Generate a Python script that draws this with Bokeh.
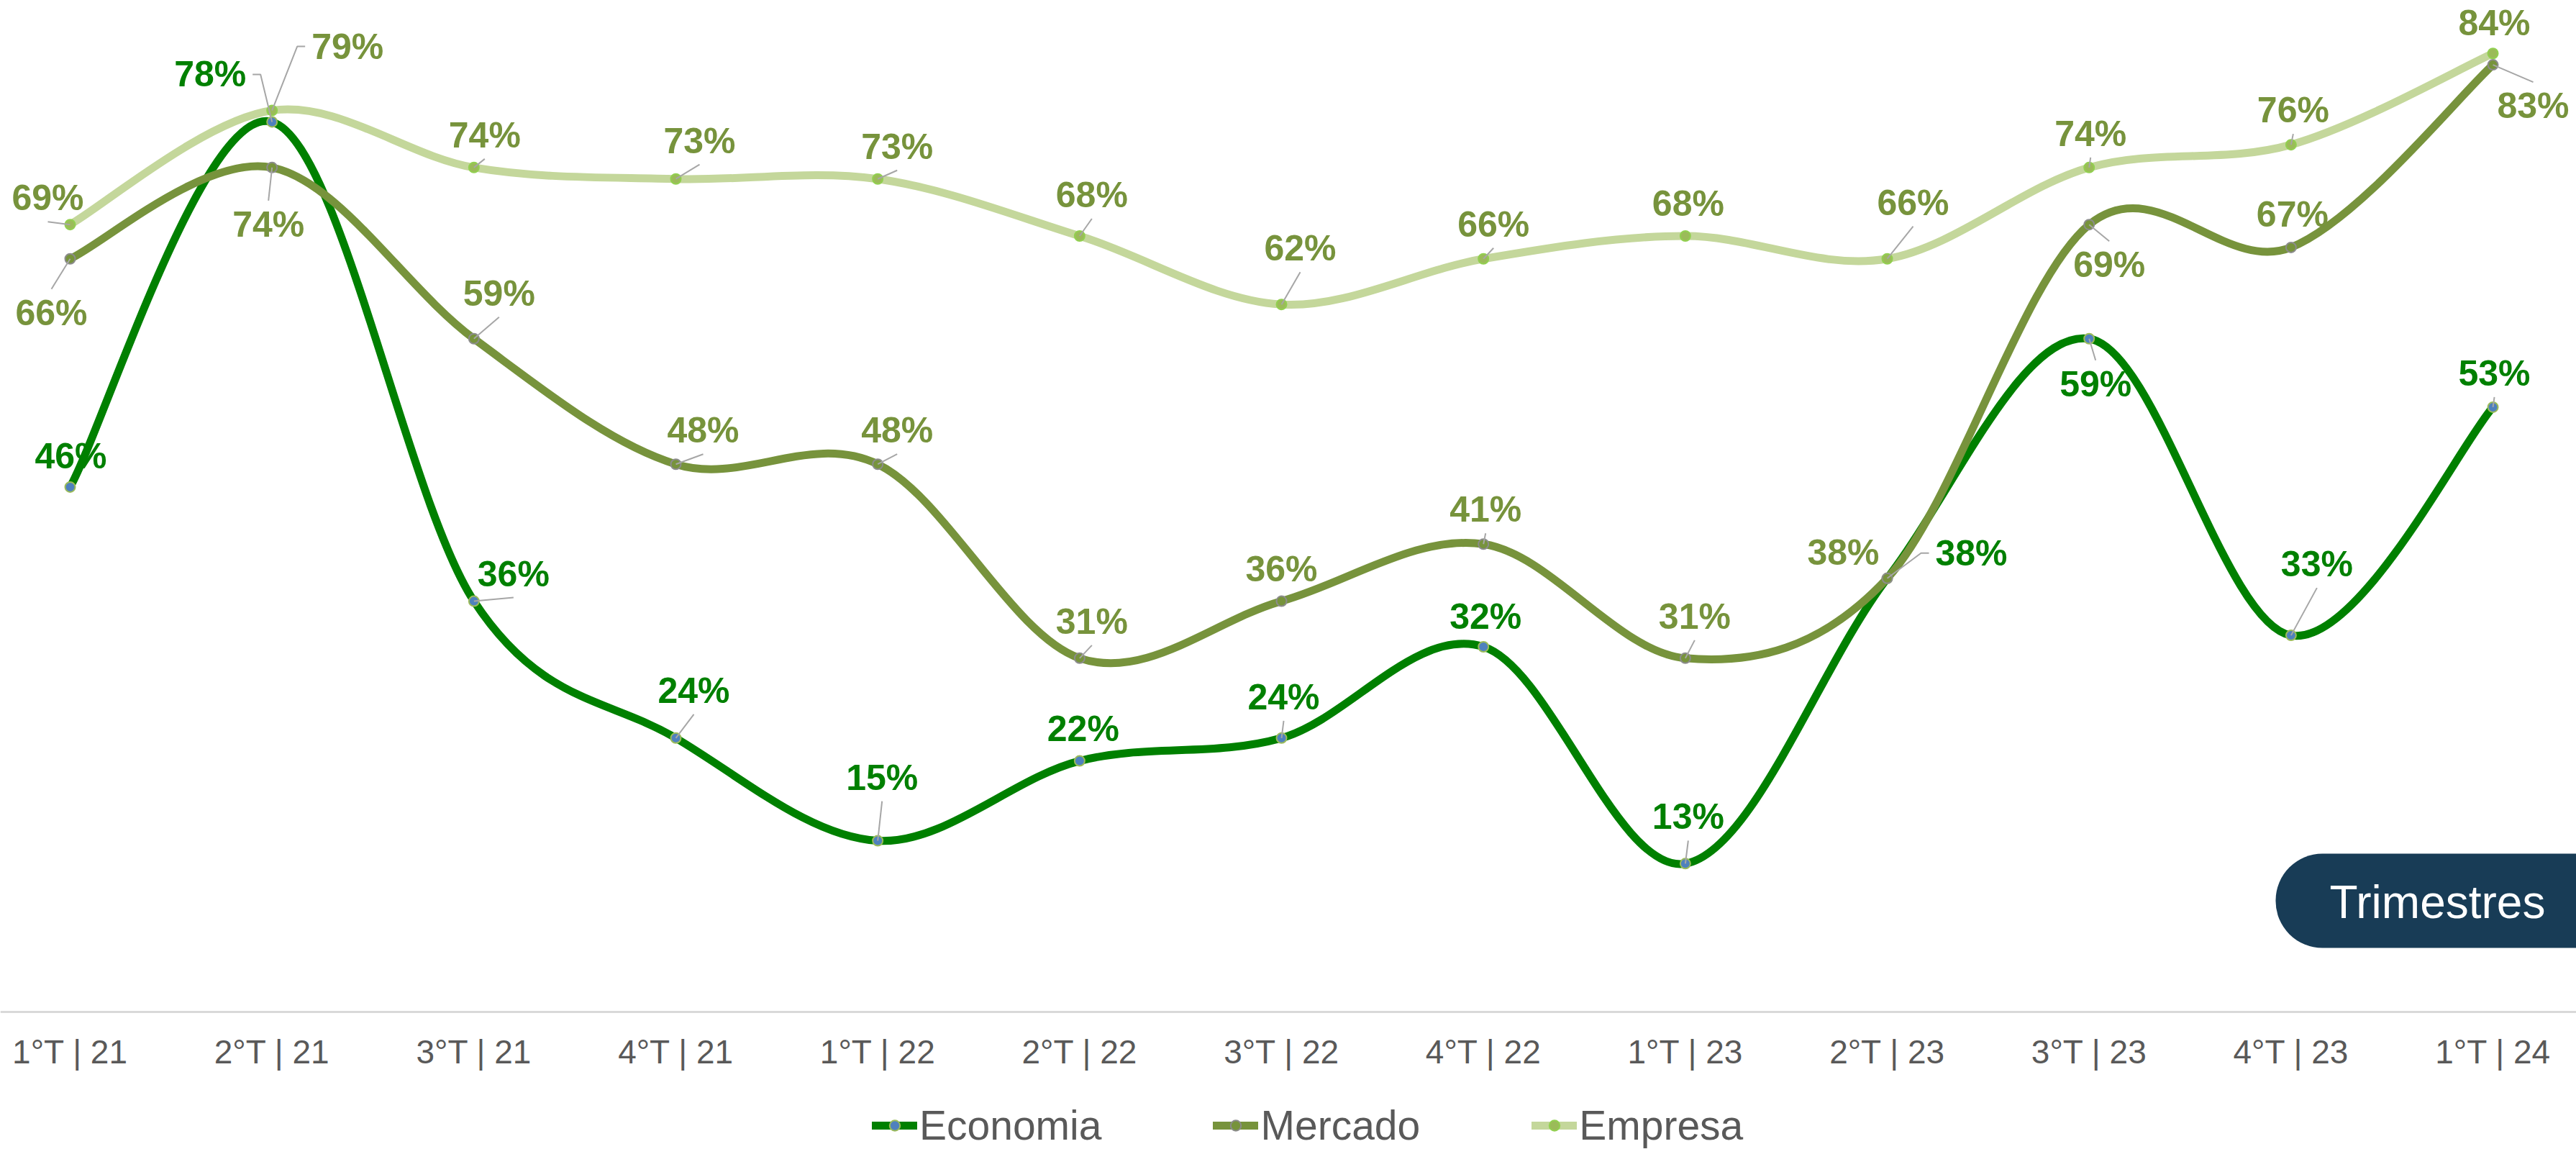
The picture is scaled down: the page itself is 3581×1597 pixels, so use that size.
import math
from bokeh.plotting import figure
from bokeh.models import (ColumnDataSource, Range1d, FixedTicker, Legend,
                          LegendItem, BoxAnnotation)
from bokeh.embed import file_html
from bokeh.resources import INLINE
from bokeh.core.properties import value

# ---------------- data ----------------
categories = ["1°T | 21", "2°T | 21", "3°T | 21", "4°T | 21",
              "1°T | 22", "2°T | 22", "3°T | 22", "4°T | 22",
              "1°T | 23", "2°T | 23", "3°T | 23", "4°T | 23", "1°T | 24"]
economia = [46, 78, 36, 24, 15, 22, 24, 32, 13, 38, 59, 33, 53]
mercado = [66, 74, 59, 48, 48, 31, 36, 41, 31, 38, 69, 67, 83]
empresa = [69, 79, 74, 73, 73, 68, 62, 66, 68, 66, 74, 76, 84]
series_names = ["Economia", "Mercado", "Empresa"]
badge_text = "Trimestres"

# ---------------- layout / style ----------------
W, H = 3581, 1597
BASE_PY = 1406        # pixel row of the 0 % baseline
XPX = 280.67          # pixels per category
YPX = 15.86           # pixels per percentage point
X0_PX = 97            # pixel column of the first category
X_START = -X0_PX / XPX
Y_START = -(H - BASE_PY) / YPX
FONT = "Liberation Sans"


def px2x(px):
    return X_START + px / XPX


def py2y(py):
    return (BASE_PY - py) / YPX


# label offsets (pixels, screen: +dx right, +dy down) and leader modes
econ_off = [(1, -43), (-86, -66), (55, -38), (25, -66), (6, -88), (5, -45), (3, -57),
            (3, -42), (4, -65), (117, -35), (9, 63), (36, -99), (2, -47)]
econ_lead = ["v", "s", "v", "v", "v", "v", "v", "v", "v", "s", "v", "v", "v"]
merc_off = [(-26, 75), (-5, 79), (35, -63), (38, -47), (27, -47), (17, -51), (0, -45),
            (3, -48), (13, -58), (-61, -36), (28, 56), (2, -46), (56, 57)]
merc_lead = ["v", "v", "v", "v", "v", "v", "v", "v", "v", "n", "v", "v", "v"]
emp_off = [(-31, -37), (105, -89), (15, -45), (33, -53), (27, -45), (17, -57), (26, -78),
           (14, -48), (4, -45), (36, -78), (2, -47), (3, -48), (2, -42)]
emp_lead = ["v", "s", "v", "v", "v", "v", "v", "v", "v", "v", "v", "v", "v"]

styles = {
    "Economia": dict(line="#008000", mfill="#4F81BD", mline="#9BBB59", text="#008000"),
    "Mercado": dict(line="#77933C", mfill="#77933C", mline="#8C8C8C", text="#77933C"),
    "Empresa": dict(line="#C4D79B", mfill="#9BBB59", mline="#92D050", text="#77933C"),
}


def bezier_cols(vals):
    n = len(vals)
    P = [(float(i), float(v)) for i, v in enumerate(vals)]
    c = dict(x0=[], y0=[], x1=[], y1=[], cx0=[], cy0=[], cx1=[], cy1=[])
    for i in range(n - 1):
        p0 = P[i - 1] if i > 0 else P[i]
        p1, p2 = P[i], P[i + 1]
        p3 = P[i + 2] if i + 2 < n else P[i + 1]
        c["x0"].append(p1[0]); c["y0"].append(p1[1])
        c["x1"].append(p2[0]); c["y1"].append(p2[1])
        c["cx0"].append(p1[0] + (p2[0] - p0[0]) / 6.0)
        c["cy0"].append(p1[1] + (p2[1] - p0[1]) / 6.0)
        c["cx1"].append(p2[0] - (p3[0] - p1[0]) / 6.0)
        c["cy1"].append(p2[1] - (p3[1] - p1[1]) / 6.0)
    return c


p = figure(width=W, height=H, output_backend="svg", toolbar_location=None, tools="",
           x_range=Range1d(X_START, X_START + W / XPX),
           y_range=Range1d(Y_START, BASE_PY / YPX),
           y_axis_location=None,
           min_border_left=0, min_border_right=0, min_border_top=0,
           min_border_bottom=0)
p.outline_line_color = None
p.background_fill_color = "white"
p.border_fill_color = "white"
p.xgrid.visible = False
p.ygrid.visible = False

ax = p.xaxis[0]
ax.fixed_location = 0
ax.ticker = FixedTicker(ticks=list(range(len(categories))))
ax.major_label_overrides = {i: c for i, c in enumerate(categories)}
ax.major_label_text_font = FONT
ax.major_label_text_font_size = "46px"
ax.major_label_text_color = "#595959"
ax.major_tick_line_color = None
ax.minor_tick_line_color = None
ax.major_tick_out = 0
ax.major_tick_in = 0
ax.major_label_standoff = 29
ax.axis_line_color = "#D9D9D9"
ax.axis_line_width = 3

# badge
try:
    badge = BoxAnnotation(left=px2x(3163), right=px2x(3720), top=py2y(1186), bottom=py2y(1317),
                          fill_color="#183C56", fill_alpha=1.0, line_alpha=0,
                          border_radius=65)
except Exception:
    badge = BoxAnnotation(left=px2x(3163), right=px2x(3720), top=py2y(1186), bottom=py2y(1317),
                          fill_color="#183C56", fill_alpha=1.0, line_alpha=0)
p.add_layout(badge)
btxt = p.text(x=[px2x(3388)], y=[py2y(1253)], text=[badge_text], text_color="white",
              text_font=value(FONT), text_font_size="64px", text_align="center",
              text_baseline="middle")
btxt.level = "overlay"

legend_items = []
all_series = [("Economia", economia, econ_off, econ_lead),
              ("Mercado", mercado, merc_off, merc_lead),
              ("Empresa", empresa, emp_off, emp_lead)]

for name, vals, offs, leads in all_series:
    st = styles[name]
    src = ColumnDataSource(bezier_cols(vals))
    lr = p.bezier(x0="x0", y0="y0", x1="x1", y1="y1", cx0="cx0", cy0="cy0",
                  cx1="cx1", cy1="cy1", source=src, line_color=st["line"],
                  line_width=11, line_cap="round")
    mr = p.scatter(x=list(range(len(vals))), y=vals, size=14, marker="circle",
                   fill_color=st["mfill"], line_color=st["mline"], line_width=2)
    legend_items.append(LegendItem(label=name, renderers=[lr, mr]))

label_cols = dict(x=[], y=[], text=[], color=[])
lead_x, lead_y = [], []
for name, vals, offs, leads in all_series:
    st = styles[name]
    for i, v in enumerate(vals):
        dx, dy = offs[i]
        lx = i + dx / XPX
        ly = v - dy / YPX
        label_cols["x"].append(lx)
        label_cols["y"].append(ly)
        label_cols["text"].append(f"{v}%")
        label_cols["color"].append(st["text"])
        mode = leads[i]
        if mode == "n":
            continue
        if mode == "s":
            sgn = 1 if dx > 0 else -1
            ax_px = dx - sgn * (50 + 9)
            el_px = ax_px - sgn * 11
            pts = [(0, 0), (el_px, dy), (ax_px, dy)]
        else:
            ay = dy + 33 if dy < 0 else dy - 33
            if math.hypot(dx, ay) < 14:
                continue
            pts = [(0, 0), (dx, ay)]
        lead_x.append([i + a / XPX for a, b in pts])
        lead_y.append([v - b / YPX for a, b in pts])

p.multi_line(xs=lead_x, ys=lead_y, line_color="#A6A6A6", line_width=2)
p.text(x="x", y="y", text="text", text_color="color", source=ColumnDataSource(label_cols),
       text_font=value(FONT), text_font_style="bold", text_font_size="50px",
       text_align="center", text_baseline="middle")

legend = Legend(items=legend_items, orientation="horizontal", location=(1212, 0))
legend.label_text_font = FONT
legend.label_text_font_size = "57px"
legend.label_text_color = "#595959"
legend.glyph_width = 63
legend.glyph_height = 36
legend.label_standoff = 3
legend.spacing = 155
legend.padding = 0
legend.margin = 0
legend.border_line_color = None
legend.background_fill_alpha = 0
p.add_layout(legend, "center")

open("out.html", "w").write(file_html(p, INLINE))
